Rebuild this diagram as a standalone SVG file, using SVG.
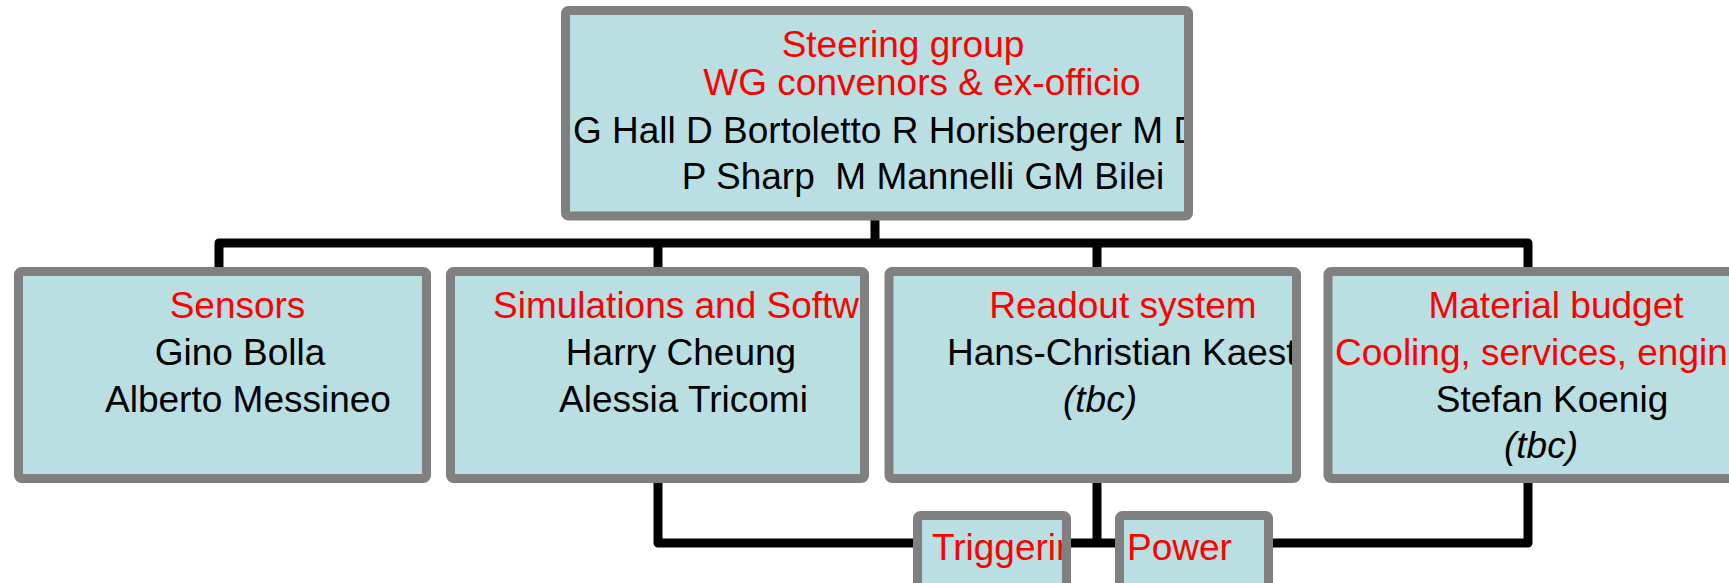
<svg xmlns="http://www.w3.org/2000/svg" width="1729" height="583" viewBox="0 0 1729 583">
<style>
.box{fill:#B9DFE3;stroke:#808080;stroke-width:9;}
.ln{fill:none;stroke:#000;stroke-width:9;stroke-linejoin:round;}
text{font-family:"Liberation Sans",Arial,sans-serif;font-size:37px;white-space:pre;}
.r{fill:#FF0000;}
.k{fill:#000;}
.c{text-anchor:middle;}
.i{font-style:italic;}
</style>
<defs>
<clipPath id="cTop"><rect x="570" y="15" width="614" height="196"/></clipPath>
<clipPath id="c2"><rect x="455" y="276" width="405" height="198"/></clipPath>
<clipPath id="c3"><rect x="893" y="276" width="399" height="198"/></clipPath>
<clipPath id="cT"><rect x="922" y="520" width="140" height="63"/></clipPath>
</defs>
<g id="connectors">
<path class="ln" d="M875 220 V243"/>
<path class="ln" d="M219 267 V243 H1528 V267"/>
<path class="ln" d="M658 243 V267"/>
<path class="ln" d="M1097 243 V267"/>
<path class="ln" d="M658 483 V543 H1528 V483"/>
<path class="ln" d="M1097 483 V543"/>
</g>
<g id="steering">
<rect class="box" x="565.5" y="10.5" width="623" height="205.5" rx="3"/>
<g clip-path="url(#cTop)">
<text class="r c" x="903" y="57">Steering group</text>
<text class="r c" x="922" y="95">WG convenors &amp; ex-officio</text>
<text class="k" x="573" y="143">G Hall D Bortoletto R Horisberger M D</text>
<text class="k c" x="923" y="189" xml:space="preserve">P Sharp  M Mannelli GM Bilei</text>
</g>
</g>
<g id="sensors">
<rect class="box" x="18.5" y="271.5" width="408" height="207" rx="3"/>
<text class="r c" x="237.5" y="318">Sensors</text>
<text class="k c" x="240" y="365">Gino Bolla</text>
<text class="k c" x="248" y="412">Alberto Messineo</text>
</g>
<g id="simulations">
<rect class="box" x="450.5" y="271.5" width="414" height="207" rx="3"/>
<g clip-path="url(#c2)">
<text class="r" x="493" y="318">Simulations and Softw</text>
<text class="k c" x="681" y="365">Harry Cheung</text>
<text class="k c" x="683.5" y="412">Alessia Tricomi</text>
</g>
</g>
<g id="readout">
<rect class="box" x="889" y="271.5" width="407.5" height="207" rx="3"/>
<g clip-path="url(#c3)">
<text class="r c" x="1123" y="318">Readout system</text>
<text class="k" x="947" y="365">Hans-Christian Kaest</text>
<text class="k c i" x="1100" y="412">(tbc)</text>
</g>
</g>
<g id="material">
<rect class="box" x="1328" y="271.5" width="500" height="207" rx="3"/>
<text class="r c" x="1556" y="318">Material budget</text>
<text class="r" x="1335" y="365">Cooling, services, engin</text>
<text class="k c" x="1552" y="412">Stefan Koenig</text>
<text class="k c i" x="1541" y="458">(tbc)</text>
</g>
<g id="triggering">
<rect class="box" x="917.5" y="515.5" width="149" height="100" rx="3"/>
<g clip-path="url(#cT)">
<text class="r" x="932" y="560">Triggerin</text>
</g>
</g>
<g id="power">
<rect class="box" x="1119.5" y="515.5" width="149" height="100" rx="3"/>
<text class="r" x="1127" y="560">Power</text>
</g>
</svg>
